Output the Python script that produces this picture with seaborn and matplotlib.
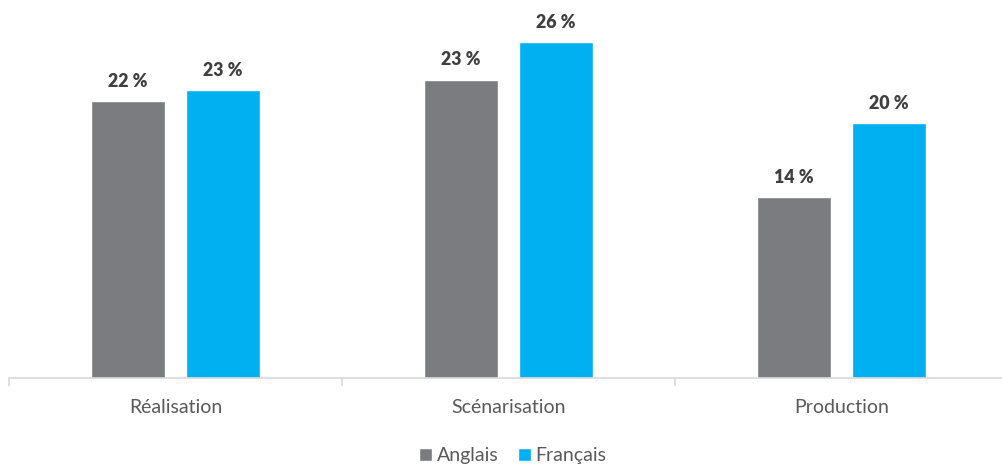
import matplotlib
matplotlib.use("Agg")
import pandas as pd
import matplotlib.pyplot as plt
import seaborn as sns

# -------------------------------
# Data
# -------------------------------
categories = ["Réalisation", "Scénarisation", "Production"]
anglais = [21.4, 23.1, 14.0]
francais = [22.3, 26.0, 19.7]
anglais_labels = ["22 %", "23 %", "14 %"]
francais_labels = ["23 %", "26 %", "20 %"]
series_names = ["Anglais", "Français"]

df = pd.DataFrame({
    "categorie": categories * 2,
    "langue": [series_names[0]] * 3 + [series_names[1]] * 3,
    "valeur": anglais + francais,
})

# -------------------------------
# Style
# -------------------------------
sns.set_theme(style="white")
plt.rcParams["font.family"] = ["Lato", "DejaVu Sans"]

palette = {"Anglais": "#7A7C80", "Français": "#00B0F0"}

fig = plt.figure(figsize=(10.02, 4.65), dpi=100)
ax = fig.add_axes([9 / 1002, 87 / 465, 999 / 1002, 361.8 / 465])

sns.barplot(data=df, x="categorie", y="valeur", hue="langue", order=categories,
            hue_order=series_names, palette=palette, width=0.5706, gap=0.221,
            saturation=1, ax=ax, legend=True)

ax.set_xlim(-0.5, 2.5)
ax.set_ylim(0, 28)

# value labels
for cont, labs in zip(ax.containers, [anglais_labels, francais_labels]):
    ax.bar_label(cont, labels=labs, padding=8, fontsize=12.8, fontweight="heavy",
                 color="#3F3F3F")

# axes cosmetics
for s in ["top", "right", "left"]:
    ax.spines[s].set_visible(False)
ax.spines["bottom"].set_color("#D9D9D9")
ax.spines["bottom"].set_linewidth(1.2)
ax.set_yticks([])
ax.set_xlabel("")
ax.set_ylabel("")
ax.set_xticks([-0.5, 0.5, 1.5, 2.5], minor=False)
ax.set_xticklabels([])
ax.tick_params(axis="x", which="major", length=6, width=1.2, color="#D9D9D9",
               bottom=True, direction="out")
ax.set_xticks([0, 1, 2], minor=True)
ax.set_xticklabels(categories, minor=True, fontsize=14, color="#595959")
ax.tick_params(axis="x", which="minor", length=0, pad=15)

# legend
handles, labels = ax.get_legend_handles_labels()
ax.legend_.remove()
fig.legend(handles, labels, loc="center", bbox_to_anchor=(0.512, 0.02),
           ncol=2, frameon=False, fontsize=14, handlelength=0.65,
           handleheight=0.65, handletextpad=0.25, columnspacing=1.0,
           labelcolor="#595959")

fig.savefig("out.png", dpi=100)
